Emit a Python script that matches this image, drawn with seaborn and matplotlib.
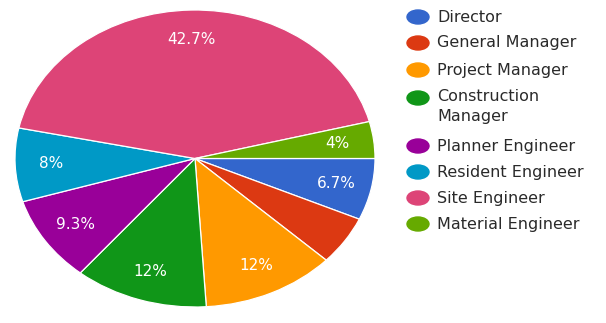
import matplotlib
matplotlib.use("Agg")
import matplotlib.pyplot as plt
from matplotlib.patches import Ellipse
import numpy as np
import seaborn as sns

roles = ["Director", "General Manager", "Project Manager", "Construction\nManager",
         "Planner Engineer", "Resident Engineer", "Site Engineer", "Material Engineer"]
shares = [6.7, 5.3, 12, 12, 9.3, 8, 42.7, 4]
shown_labels = ["6.7%", "", "12%", "12%", "9.3%", "8%", "42.7%", "4%"]
hex_colors = ["#3366CC", "#DC3912", "#FF9900", "#109618",
              "#990099", "#0099C6", "#DD4477", "#66AA00"]

sns.set_theme(style="white")
plt.rcParams["font.family"] = ["DejaVu Sans"]
palette = sns.color_palette(hex_colors)

W, H = 606, 323
fig = plt.figure(figsize=(W / 100, H / 100), dpi=100)
fig.patch.set_facecolor("white")

# pie area, stretched into an ellipse
left, top, pw, ph = 15, 10, 360, 297
ax = fig.add_axes([left / W, 1 - (top + ph) / H, pw / W, ph / H])
wedges, _ = ax.pie(shares, colors=palette, startangle=0, counterclock=False,
                   radius=1.0, wedgeprops=dict(edgecolor="white", linewidth=0.9))
ax.set_aspect("auto")
ax.set_xlim(-1, 1)
ax.set_ylim(-1, 1)
ax.axis("off")

total = sum(shares)
cum = 0.0
for val, txt in zip(shares, shown_labels):
    mid = cum + val / 2
    cum += val
    if not txt:
        continue
    ang = np.deg2rad(-mid / total * 360)
    r = 0.8
    ax.text(r * np.cos(ang), r * np.sin(ang), txt, ha="center", va="center",
            color="white", fontsize=11)

# legend
ys = [17, 43, 70, 98, 146, 172, 198, 224]
for name, c, y in zip(roles, palette, ys):
    fig.add_artist(Ellipse((418 / W, 1 - y / H), 22 / W, 14 / H,
                           transform=fig.transFigure, color=c))
    if "\n" in name:
        ty, va = 1 - (y - 9) / H, "top"
    else:
        ty, va = 1 - y / H, "center"
    fig.text(437 / W, ty, name, ha="left", va=va,
             color="#2a2a2a", fontsize=11.5, linespacing=1.4)

fig.savefig("out.png", dpi=100)
